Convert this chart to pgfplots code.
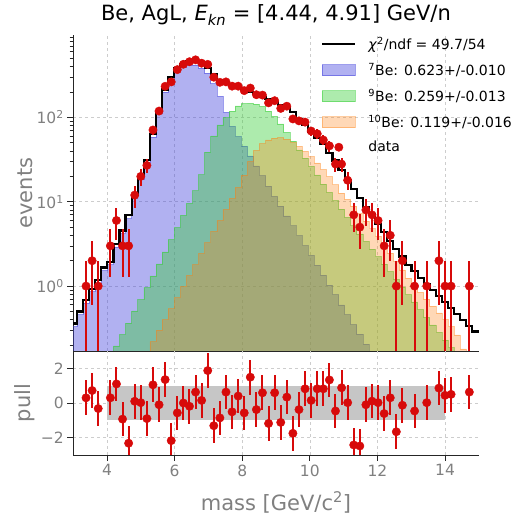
\documentclass[border=0pt]{standalone}
\usepackage{fontspec}
\setmainfont{DejaVu Sans}
\usepackage{pgfplots}
\pgfplotsset{compat=1.18}
\usepackage{pgfplotstable}

\definecolor{c7}{RGB}{60,60,220}
\definecolor{c9}{RGB}{50,205,50}
\definecolor{c10}{RGB}{255,127,14}
\definecolor{dred}{RGB}{215,10,10}
\definecolor{tgray}{RGB}{128,128,128}
\definecolor{ggray}{RGB}{205,205,205}

% bin left edges; tot = fit total, b7/b9/b10 = components
\pgfplotstableread{
x tot b7 b9 b10
2.93 0.01 0.01 0.01 0.01
2.93 0.36 0.33 0.01 0.01
3.11 0.50 0.46 0.01 0.01
3.29 0.68 0.63 0.01 0.01
3.47 0.93 0.86 0.01 0.01
3.65 1.17 1.08 0.01 0.01
3.83 1.66 1.53 0.01 0.01
4.01 1.95 1.80 0.14 0.01
4.19 3.16 2.9 0.195 0.01
4.37 4.57 4.2 0.266 0.01
4.55 6.9 6.3 0.365 0.01
4.73 12.0 11.0 0.507 0.01
4.91 20.0 18.5 0.69 0.12
5.09 31.6 29.3 0.96 0.166
5.27 63 58.6 1.32 0.219
5.45 120 112 1.83 0.30
5.63 214 200 2.55 0.40
5.81 302 283 3.55 0.54
5.99 380 355 4.94 0.73
6.17 427 395 6.89 0.99
6.35 462 420 9.6 1.34
6.53 468 420 13.5 1.80
6.71 437 385 20.9 2.45
6.89 389 336 38.9 3.28
7.07 324 251 60.3 4.47
7.25 275 178 81.5 6.0
7.43 254 115 99.5 8.13
7.61 243 78.5 119 11.0
7.79 229 59.2 137 14.8
7.97 216 45.8 146 20.7
8.15 202 35.0 147 30.2
8.33 191 26.7 144 40.6
8.51 176 20.4 135 49.0
8.69 164 15.3 119 54.3
8.87 151 11.6 103 57.0
9.05 141 8.89 83.8 57.5
9.23 132 6.79 66.7 55.2
9.41 115 5.19 52.5 50.7
9.59 95 3.96 41.3 45.3
9.77 81 3.03 32.9 39.7
9.95 68 2.31 26.2 34.2
10.13 57.5 1.77 20.8 28.9
10.31 47.9 1.35 16.2 24.0
10.49 37.6 1.03 12.9 19.9
10.67 30.9 0.79 10.3 15.9
10.85 24.0 0.60 8.18 12.7
11.03 18.2 0.46 6.52 10.7
11.21 14.1 0.35 5.19 8.9
11.39 11.2 0.27 4.17 7.24
11.57 8.7 0.205 3.39 5.89
11.75 7.1 0.156 2.75 4.79
11.93 5.5 0.119 2.24 3.88
12.11 4.37 0.091 1.82 3.09
12.29 3.39 0.01 1.48 2.46
12.47 2.75 0.01 1.20 1.96
12.65 2.24 0.01 0.98 1.56
12.83 1.78 0.01 0.79 1.24
13.01 1.51 0.01 0.65 1.01
13.19 1.26 0.01 0.525 0.84
13.37 1.07 0.01 0.427 0.70
13.55 0.89 0.01 0.347 0.58
13.73 0.76 0.01 0.282 0.48
13.91 0.65 0.01 0.229 0.40
14.09 0.55 0.01 0.186 0.33
14.27 0.47 0.01 0.151 0.264
14.45 0.40 0.01 0.123 0.18
14.63 0.34 0.01 0.10 0.12
14.81 0.29 0.01 0.08 0.08
15.1 0.29 0.01 0.08 0.08
15.1 0.01 0.01 0.01 0.01
}\histtab

% bin centres, data counts, errors, pulls
\pgfplotstableread{
x n ep em pull
3.38 1 1 0.99 0.30
3.56 2 1.41 1.41 0.72
3.74 1 1 0.99 -0.32
4.10 3 1.73 1.73 0.30
4.28 6 2.45 2.45 1.10
4.46 3 1.73 1.73 -0.93
4.64 3 1.73 1.73 -2.32
4.82 12 3.46 3.46 0.10
5.00 20 4.47 4.47 0.02
5.18 27 5.2 5.2 -0.90
5.36 71 8.43 8.43 1.05
5.54 119 10.9 10.9 -0.10
5.72 234 15.3 15.3 1.35
5.90 264 16.2 16.2 -2.17
6.08 369 19.2 19.2 -0.57
6.26 427 20.7 20.7 0.00
6.44 458 21.4 21.4 -0.19
6.62 482 22.0 22.0 0.63
6.80 440 21.0 21.0 0.15
6.98 426 20.6 20.6 1.87
7.16 300 17.3 17.3 -1.31
7.34 261 16.2 16.2 -0.86
7.52 264 16.2 16.2 0.63
7.70 235 15.3 15.3 -0.51
7.88 235 15.3 15.3 0.40
8.06 208 14.4 14.4 -0.57
8.24 223 14.9 14.9 1.49
8.42 186 13.6 13.6 -0.38
8.60 184 13.6 13.6 0.59
8.78 149 12.2 12.2 -1.18
8.96 158 12.6 12.6 0.59
9.14 128 11.3 11.3 -1.12
9.32 136 11.7 11.7 0.34
9.50 96 9.8 9.8 -1.75
9.68 91 9.5 9.5 -0.38
9.86 88 9.4 9.4 0.82
10.04 69 8.3 8.3 0.15
10.22 64 8.0 8.0 0.82
10.40 54 7.35 7.35 0.82
10.58 46 6.78 6.78 1.33
10.76 28 5.29 5.29 -0.46
10.94 28 5.29 5.29 0.88
11.12 18 4.24 4.24 0.02
11.30 7 2.65 2.65 -2.42
11.48 5 2.24 2.24 -2.48
11.66 8 2.83 2.83 -0.10
11.84 7 2.65 2.65 0.11
12.02 6 2.45 2.45 0.02
12.20 3 1.73 1.73 -0.61
12.38 4 2 2 0.30
12.56 1 1 0.99 -1.66
12.74 2 1.41 1.41 -0.13
13.10 1 1 0.99 -0.46
13.46 1 1 0.99 0.02
13.82 2 1.41 1.41 0.86
14.00 1 1 0.99 0.44
14.18 1 1 0.99 0.50
14.72 1 1 0.99 0.63
}\datatab

\pgfplotsset{
  /pgf/number format/assume math mode=true,
  myaxis/.style={
    scale only axis, width=405.6pt,
    xmin=3, xmax=15,
    axis x line*=bottom, axis y line*=left,
    axis line style={-, black!85, line width=0.9pt},
    tick align=outside,
    major tick length=6pt, minor tick length=3.5pt,
    tick style={black!85, line width=0.9pt},
    minor tick style={line width=0.7pt},
    tick label style={tgray, font=\fontsize{15.5}{18}\selectfont},
    label style={tgray, font=\fontsize{21}{24}\selectfont},
    grid=major,
    major grid style={dashed, ggray, line width=0.6pt},
  },
}

\begin{document}
\begin{tikzpicture}
\useasboundingbox (0pt,0pt) rectangle (519pt,516pt);
\begin{axis}[myaxis,
  at={(73.2pt,165pt)}, anchor=south west, height=316pt,
  ymode=log, ymin=0.17, ymax=950,
  xtick={4,6,...,14}, xticklabels={}, xmajorticks=false,
  ytick={1,10,100},
  yticklabels={10\textsuperscript{0},10\textsuperscript{1},10\textsuperscript{2}},
  minor ytick={0.2,0.3,0.4,0.5,0.6,0.7,0.8,0.9,2,3,4,5,6,7,8,9,20,30,40,50,60,70,80,90,200,300,400,500,600,700,800,900},
  ylabel={events},
  ylabel style={at={(axis description cs:-0.119,0.5)}, anchor=center},
  title={Be, AgL, \textit{E}\textsubscript{\textit{kn}} = [4.44, 4.91] GeV/n},
  title style={at={(axis description cs:0.5,1)}, anchor=base, yshift=8pt, black, font=\fontsize{21}{24}\selectfont},
  legend style={at={(0.6036,1.006)}, anchor=north west, draw=none, fill=none,
    font=\fontsize{14}{17}\selectfont, row sep=8pt, text=black,
    /tikz/every odd column/.append style={column sep=10pt}},
  legend cell align=left,
]
\addplot[forget plot, const plot mark left, fill=c7, fill opacity=0.4, draw=c7, draw opacity=0.5, line width=0.6pt] table[x=x, y=b7] {\histtab};
\addplot[forget plot, const plot mark left, fill=c9, fill opacity=0.4, draw=c9, draw opacity=0.5, line width=0.6pt] table[x=x, y=b9] {\histtab};
\addplot[forget plot, const plot mark left, fill=c10, fill opacity=0.3, draw=c10, draw opacity=0.4, line width=0.6pt] table[x=x, y=b10] {\histtab};
\addplot[forget plot, const plot mark left, black, line width=2.2pt] table[x=x, y=tot] {\histtab};
\addplot[forget plot, only marks, mark=*, mark size=4.2pt, dred,
  error bars/.cd, y dir=both, y explicit, error mark=none,
  error bar style={line width=2pt, dred}]
  table[x=x, y=n, y error plus=ep, y error minus=em] {\datatab};

\addlegendimage{legend image code/.code={\draw[black, line width=2.2pt] (0pt,0pt) -- (33pt,0pt);}}
\addlegendentry{\textit{χ}\textsuperscript{2}/ndf = 49.7/54}
\addlegendimage{legend image code/.code={\draw[fill=c7, fill opacity=0.4, draw=c7, draw opacity=0.5, line width=0.6pt] (0pt,-5.5pt) rectangle (33pt,5.5pt);}}
\addlegendentry{\textsuperscript{7}Be: 0.623+/-0.010}
\addlegendimage{legend image code/.code={\draw[fill=c9, fill opacity=0.4, draw=c9, draw opacity=0.5, line width=0.6pt] (0pt,-5.5pt) rectangle (33pt,5.5pt);}}
\addlegendentry{\textsuperscript{9}Be: 0.259+/-0.013}
\addlegendimage{legend image code/.code={\draw[fill=c10, fill opacity=0.3, draw=c10, draw opacity=0.4, line width=0.6pt] (0pt,-5.5pt) rectangle (33pt,5.5pt);}}
\addlegendentry{\textsuperscript{10}Be: 0.119+/-0.016}
\addlegendimage{legend image code/.code={\fill[dred] (16.5pt,0pt) circle (4.2pt);}}
\addlegendentry{data}
\end{axis}

\begin{axis}[myaxis,
  at={(73.2pt,61pt)}, anchor=south west, height=104pt,
  ymin=-3, ymax=3,
  xtick={4,6,...,14},
  ytick={-2,0,2}, yticklabels={−2,0,2},
  xlabel={mass [GeV/c\textsuperscript{2}]},
  xlabel style={at={(axis description cs:0.5,-0.53)}, anchor=base},
  ylabel={pull},
  ylabel style={at={(axis description cs:-0.119,0.5)}, anchor=center},
]
\addplot[fill=gray!45, draw=none] coordinates {(4,-1) (14,-1) (14,1) (4,1)};
\addplot[only marks, mark=*, mark size=4.2pt, dred,
  error bars/.cd, y dir=both, y fixed=1, error mark=none,
  error bar style={line width=2pt, dred}]
  table[x=x, y=pull] {\datatab};
\end{axis}
\end{tikzpicture}
\end{document}
